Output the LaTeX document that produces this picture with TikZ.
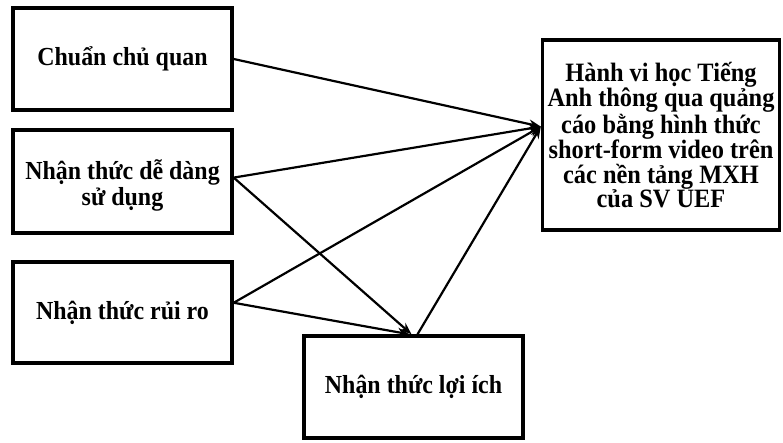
\documentclass[tikz,border=0pt]{standalone}
\usepackage{fontspec}
\setmainfont{Liberation Serif}[FakeStretch=0.92]
\usetikzlibrary{arrows.meta}
\begin{document}
\begin{tikzpicture}[x=1pt,y=-1pt,
  box/.style={draw=black, line width=3.4pt, fill=white, align=center,
    font=\bfseries\fontsize{26}{23.5}\selectfont, inner sep=0pt},
  boxtext/.style={align=center, inner sep=0pt,
    font=\bfseries\fontsize{26}{26.5}\selectfont},
  link/.style={draw=black, line width=2.2pt,
    -{Stealth[length=12pt,width=9pt]}}]
\useasboundingbox (0,0) rectangle (783,443);
\fill[white] (0,0) rectangle (783,443);

% factor boxes on the left
\node[box, minimum width=219pt, minimum height=102pt] (b1) at (122.5,59) {Chuẩn chủ quan};
\node[box, minimum width=219pt, minimum height=103pt,
  label={[boxtext, yshift=-4pt]center:{Nhận thức dễ dàng\\sử dụng}}] (b2) at (122.5,181.5) {};
\node[box, minimum width=219pt, minimum height=101pt] (b3) at (122.5,312.5) {Nhận thức rủi ro};
% mediator
\node[box, minimum width=219pt, minimum height=102pt] (b4) at (413.5,387) {Nhận thức lợi ích};
% outcome
\node[box, minimum width=237pt, minimum height=190pt,
  font=\bfseries\fontsize{26.5}{24.4}\selectfont] (b5) at (661,135)
  {Hành vi học Tiếng\\Anh thông qua quảng\\cáo bằng hình thức\\short-form video trên\\các nền tảng MXH\\của SV UEF};

% paths
\draw[link] (b1.east) -- (b5.176);
\draw[link] (b2.2) -- (b5.176);
\draw[link] (b2.2) -- ([xshift=-2pt]b4.north);
\draw[link] (b3.5) -- (b5.176);
\draw[link] (b3.5) -- ([xshift=-4pt]b4.north);
\draw[link] ([xshift=4pt]b4.north) -- (b5.176);
\end{tikzpicture}
\end{document}
